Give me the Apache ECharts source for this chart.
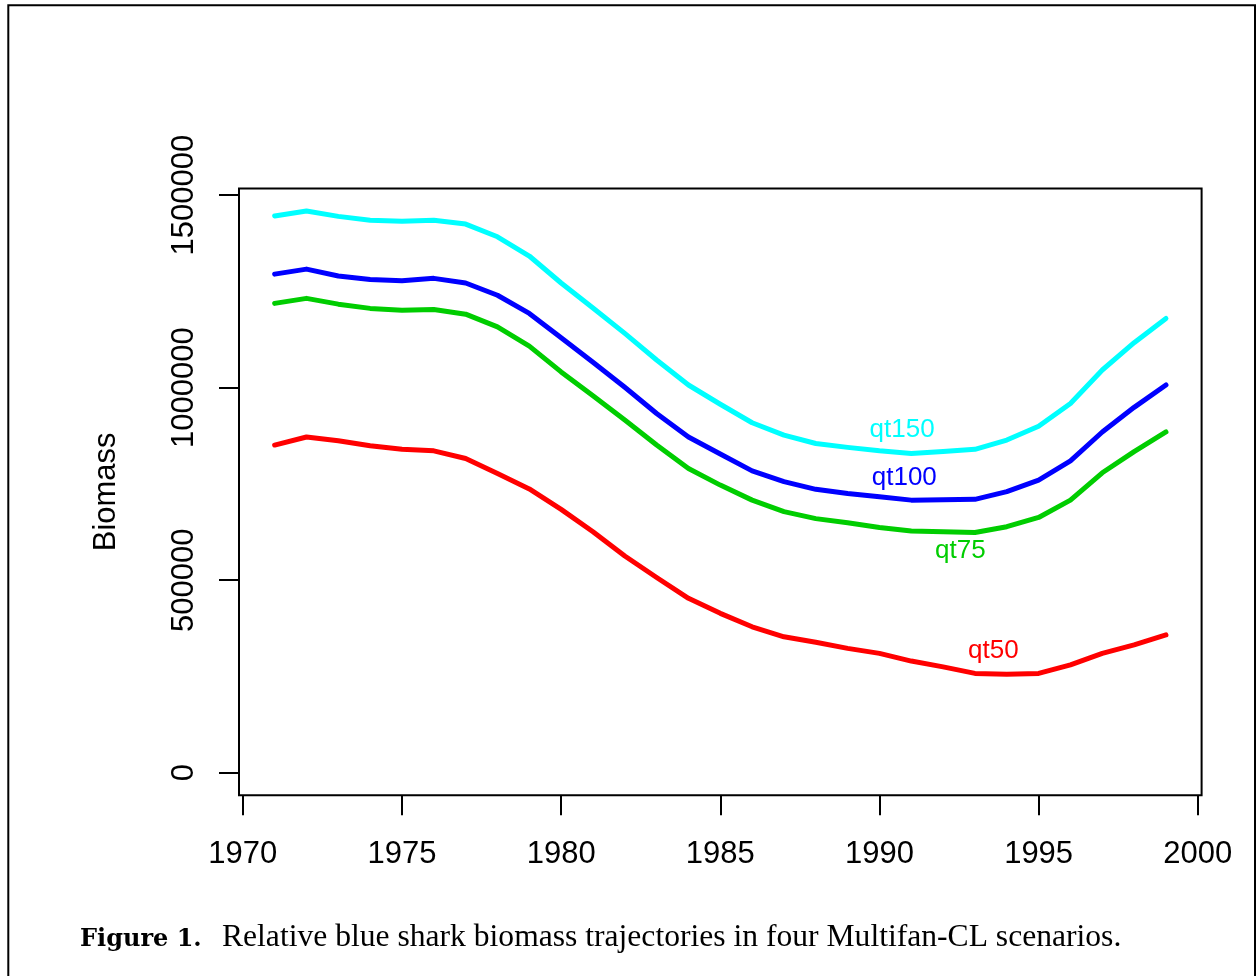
<!DOCTYPE html>
<html>
<head>
<meta charset="utf-8">
<script src="https://cdn.jsdelivr.net/npm/echarts@6.0.0/dist/echarts.min.js"></script>
<style>
  html, body { margin: 0; padding: 0; background: #fff; }
  #chart { width: 1258px; height: 976px; }
</style>
</head>
<body>
<div id="chart"></div>
<script>
// Years of the assessment
const years = [1971, 1972, 1973, 1974, 1975, 1976, 1977, 1978, 1979, 1980,
               1981, 1982, 1983, 1984, 1985, 1986, 1987, 1988, 1989, 1990,
               1991, 1992, 1993, 1994, 1995, 1996, 1997, 1998, 1999];

// Biomass trajectories per catchability scenario
const qt150 = [1446000, 1459000, 1445000, 1435000, 1432000, 1435000, 1425000, 1392000, 1342000, 1272000,
               1207000, 1141000, 1072000, 1007000, 957000, 909000, 877000, 855000, 845000, 836000,
               829000, 834000, 840000, 864000, 900000, 959000, 1046000, 1117000, 1180000];
const qt100 = [1295000, 1308000, 1290000, 1281000, 1278000, 1284000, 1272000, 1240000, 1193000, 1130000,
               1066000, 1001000, 933000, 872000, 828000, 784000, 756000, 736000, 725000, 717000,
               708000, 709000, 710000, 730000, 760000, 810000, 885000, 949000, 1007000];
const qt75  = [1219000, 1232000, 1217000, 1206000, 1201000, 1203000, 1191000, 1158000, 1108000, 1041000,
               979000, 916000, 851000, 790000, 747000, 708000, 678000, 660000, 649000, 637000,
               628000, 626000, 624000, 639000, 663000, 708000, 779000, 834000, 885000];
const qt50  = [851000, 872000, 862000, 849000, 840000, 836000, 816000, 777000, 737000, 684000,
               626000, 563000, 507000, 453000, 414000, 379000, 353000, 339000, 323000, 310000,
               290000, 275000, 258000, 256000, 258000, 280000, 310000, 332000, 358000];

// Tick values
const xTicks = [1970, 1975, 1980, 1985, 1990, 1995, 2000];
const yTicks = [0, 500000, 1000000, 1500000];

// Scenario names, colours and where each name is written
const scenarioNames  = ['qt150', 'qt100', 'qt75', 'qt50'];
const scenarioColors = ['#00FFFF', '#0000FF', '#00CD00', '#FF0000'];
const scenarioLabelAt = [[1990.71, 891000], [1990.78, 767000], [1992.54, 577000], [1993.58, 316000]];

const figureTag = 'Figure 1.';
const caption = 'Relative blue shark biomass trajectories in four Multifan-CL scenarios.';

// R-style axis limits: 4% padding around the data range
const yMaxData = Math.max(...qt150);
const xMin = 1971 - 0.04 * 28, xMax = 1999 + 0.04 * 28;
const yMin = -0.04 * yMaxData, yMax = yMaxData * 1.04;

const FONT = '"Liberation Sans", Arial, Helvetica, sans-serif';
const SERIF = '"Liberation Serif", "Times New Roman", serif';
const SERIF_WIDE = '"DejaVu Serif", serif';

const seriesValues = [qt150, qt100, qt75, qt50];

const series = seriesValues.map((vals, i) => ({
  name: scenarioNames[i],
  type: 'line',
  data: years.map((y, k) => [y, vals[k]]),
  showSymbol: false,
  symbol: 'none',
  lineStyle: { color: scenarioColors[i], width: 5, cap: 'round', join: 'round' },
  itemStyle: { color: scenarioColors[i] },
  emphasis: { disabled: true },
  markPoint: {
    symbol: 'circle',
    symbolSize: 0,
    silent: true,
    label: {
      show: true,
      position: 'inside',
      formatter: '{b}',
      color: scenarioColors[i],
      fontSize: 26,
      fontFamily: FONT
    },
    data: [{ name: scenarioNames[i], coord: scenarioLabelAt[i] }]
  }
}));

const chart = echarts.init(document.getElementById('chart'), null, { renderer: 'canvas' });
chart.setOption({
  animation: false,
  backgroundColor: '#fff',
  grid: {
    left: 239, right: 56.4, top: 188.5, bottom: 180.8,
    show: true, borderColor: '#000', borderWidth: 2, backgroundColor: 'transparent'
  },
  xAxis: {
    type: 'value',
    min: xMin, max: xMax,
    position: 'bottom',
    splitLine: { show: false },
    axisLine: { show: false, onZero: false },
    axisTick: { show: true, length: 20, inside: false, customValues: xTicks,
                lineStyle: { color: '#000', width: 2 } },
    axisLabel: { show: true, customValues: xTicks, margin: 44, fontSize: 31,
                 color: '#000', fontFamily: FONT, formatter: v => String(v) }
  },
  yAxis: {
    type: 'value',
    min: yMin, max: yMax,
    position: 'left',
    name: 'Biomass',
    nameLocation: 'middle',
    nameRotate: 90,
    nameGap: 117,
    nameTextStyle: { fontSize: 31, color: '#000', fontFamily: FONT },
    splitLine: { show: false },
    axisLine: { show: false, onZero: false },
    axisTick: { show: true, length: 20, inside: false, customValues: yTicks,
                lineStyle: { color: '#000', width: 2 } },
    axisLabel: { show: true, customValues: yTicks, rotate: 90, margin: 39, fontSize: 31,
                 color: '#000', fontFamily: FONT, formatter: v => String(v) }
  },
  series: series,
  graphic: [
    {
      type: 'rect',
      silent: true,
      shape: { x: 8.3, y: 5.2, width: 1246.7, height: 1000 },
      style: { fill: 'none', stroke: '#000', lineWidth: 2 }
    },
    {
      type: 'text',
      silent: true,
      left: 80,
      top: 928,
      style: {
        text: figureTag,
        font: 'bold 24px ' + SERIF_WIDE,
        fill: '#000'
      }
    },
    {
      type: 'text',
      silent: true,
      left: 222,
      top: 922,
      style: {
        text: caption,
        font: '31.6px ' + SERIF,
        fill: '#000'
      }
    }
  ]
});
</script>
</body>
</html>
